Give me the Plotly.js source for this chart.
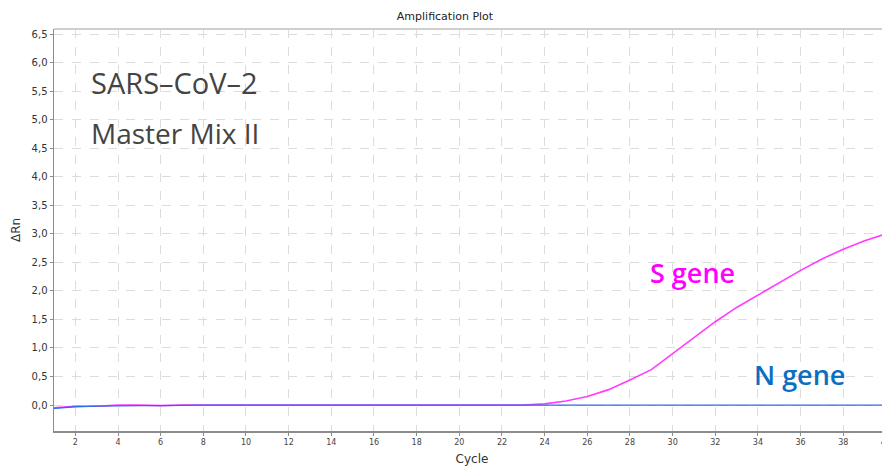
<!DOCTYPE html>
<html><head><meta charset="utf-8">
<script src="https://cdn.plot.ly/plotly-3.0.1.min.js"></script>
<style>html,body{margin:0;padding:0;overflow:hidden;background:#fff}#chart{width:900px;height:466px}</style>
</head><body><div id="chart"></div>
<script>
const cycles = [1,2,3,4,5,6,7,8,9,10,11,12,13,14,15,16,17,18,19,20,21,22,23,24,25,26,27,28,29,30,31,32,33,34,35,36,37,38,39,40];
const sGene = [-0.05,-0.02,-0.02,0.0,0.0,-0.01,0.0,0.0,0.0,0.0,0.0,0.0,0.0,0.0,-0.01,0.0,-0.01,0.0,-0.01,0.0,0.0,0.0,0.0,0.02,0.07,0.15,0.27,0.44,0.62,0.9,1.18,1.46,1.71,1.93,2.15,2.36,2.56,2.73,2.88,3.0];
const nGene = [-0.06,-0.03,-0.02,-0.01,-0.01,-0.01,0.0,0.0,0.0,0.0,0.0,0.0,0.0,0.0,0.0,0.0,0.0,0.0,0.0,0.0,0.0,0.0,0.0,0.0,0.0,0.0,0.0,0.0,0.0,0.0,0.0,0.0,0.0,-0.01,-0.01,-0.01,-0.01,-0.01,-0.01,0.0];
const labels = [
  {text:'SARS–CoV–2', x:2.62, y:5.66, color:'#444444', size:29, weight:400},
  {text:'Master Mix II', x:2.62, y:4.77, color:'#444444', size:28, weight:400},
  {text:'S gene', x:28.85, y:2.33, color:'#ff00ff', size:27, weight:600},
  {text:'N gene', x:33.7, y:0.53, color:'#0a6fc2', size:27, weight:600}
];
const traces = [
  {x:cycles, y:sGene, mode:'lines', line:{color:'#ff3cff', width:1.6}, name:'S gene'},
  {x:cycles, y:nGene, mode:'lines', line:{color:'#3366ee', width:1.3}, name:'N gene'}
];
const layout = {
  width:900, height:466,
  margin:{l:54, r:10, t:29, b:35},
  paper_bgcolor:'#fff', plot_bgcolor:'#fff',
  separators:', ',
  showlegend:false,
  font:{family:'DejaVu Sans, sans-serif', color:'#333'},
  title:{text:'Amplification Plot', font:{size:11, color:'#222'}, x:445/900, xref:'container', xanchor:'center', y:0.965, yref:'container', yanchor:'middle'},
  xaxis:{range:[1,40.19], dtick:2, tick0:0, showgrid:true, gridcolor:'#dcdcdc', griddash:'dash', gridwidth:1, ticklabeloverflow:'allow',
    zeroline:false, showline:true, linecolor:'#8c8c8c', linewidth:1.5, ticks:'outside', ticklen:3, tickcolor:'#8c8c8c',
    tickfont:{size:8, color:'#444'}, title:{text:'Cycle', font:{size:12, color:'#333'}, standoff:9}},
  yaxis:{range:[-0.455,6.59], dtick:0.5, tick0:0, tickformat:'.1f', showgrid:true, gridcolor:'#dcdcdc', griddash:'dash', gridwidth:1,
    zeroline:false, showline:true, linecolor:'#8c8c8c', linewidth:1.5, ticks:'outside', ticklen:3, tickcolor:'#8c8c8c',
    tickfont:{size:10, color:'#333'}, title:{text:'ΔRn', font:{size:12, color:'#333'}, standoff:8}},
  shapes:[{type:'line', xref:'paper', yref:'paper', x0:0, x1:1, y0:1, y1:1, line:{color:'#cfcfcf', width:2}}],
  annotations: labels.map(l => ({text:l.text, x:l.x, y:l.y, xref:'x', yref:'y', xanchor:'left', yanchor:'middle', showarrow:false,
    font:{family:'Open Sans, Noto Sans, sans-serif', size:l.size, color:l.color, weight:l.weight}}))
};
Plotly.newPlot('chart', traces, layout, {displayModeBar:false, staticPlot:true});
</script></body></html>
